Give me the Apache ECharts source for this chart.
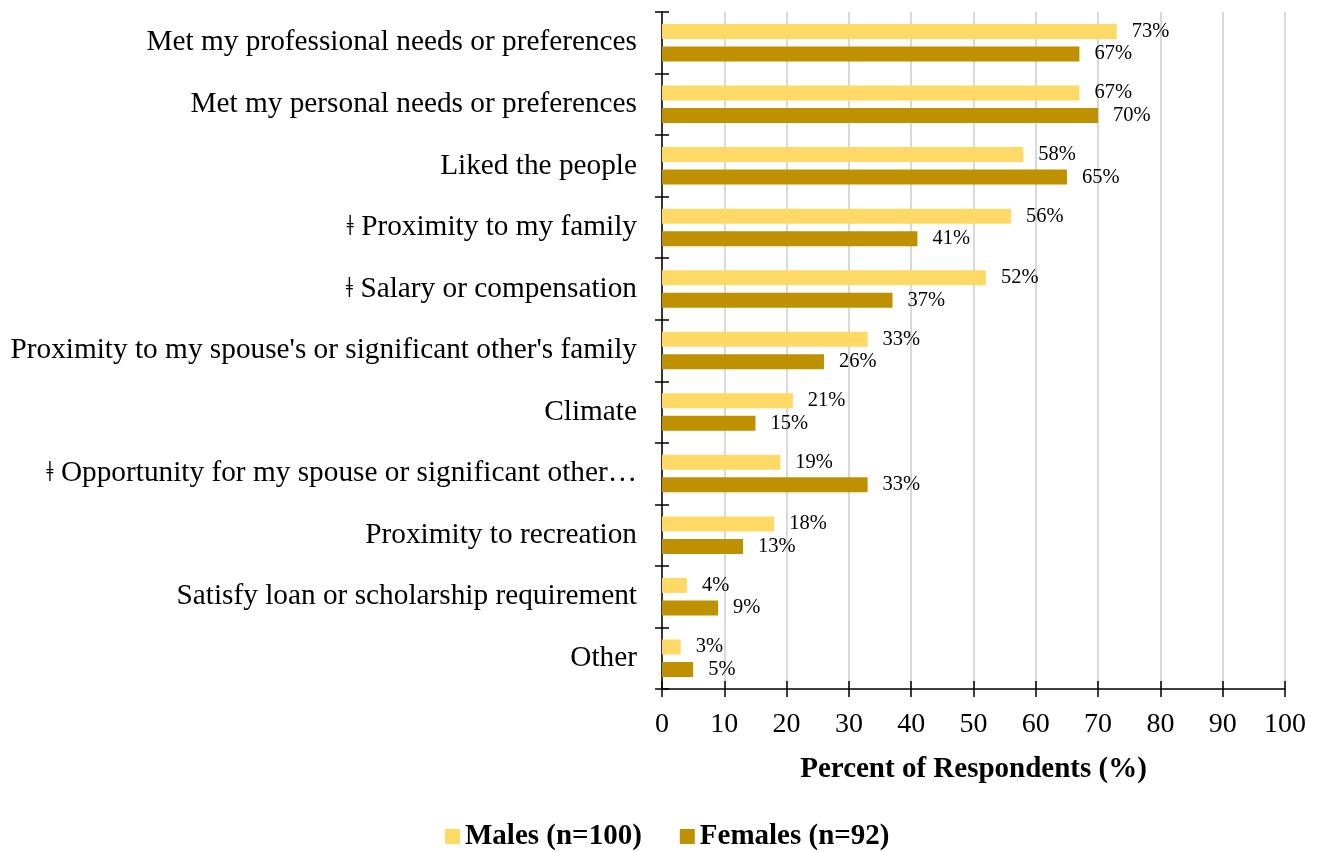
<!DOCTYPE html>
<html>
<head>
<meta charset="utf-8">
<script src="https://cdn.jsdelivr.net/npm/echarts@6/dist/echarts.min.js"></script>
<style>
  html, body { margin: 0; padding: 0; background: #ffffff; }
  #chart { width: 1320px; height: 852px; }
</style>
</head>
<body>
<div id="chart"></div>
<script>
// Reasons for choosing a practice location, by gender (top to bottom)
const categories = [
  "Met my professional needs or preferences",
  "Met my personal needs or preferences",
  "Liked the people",
  "\u01C2 Proximity to my family",
  "\u01C2 Salary or compensation",
  "Proximity to my spouse's or significant other's family",
  "Climate",
  "\u01C2 Opportunity for my spouse or significant other\u2026",
  "Proximity to recreation",
  "Satisfy loan or scholarship requirement",
  "Other"
];
const males = [73, 67, 58, 56, 52, 33, 21, 19, 18, 4, 3];
const females = [67, 70, 65, 41, 37, 26, 15, 33, 13, 9, 5];
const seriesNames = ["Males (n=100)", "Females (n=92)"];
const xTicks = { min: 0, max: 100, interval: 10 };
const xTitle = "Percent of Respondents (%)";

const FONT = "'Liberation Serif', 'Times New Roman', 'DejaVu Serif', serif";
const MALE_COLOR = "#FFD966";
const FEMALE_COLOR = "#BF9000";

const chart = echarts.init(document.getElementById("chart"));

const valueLabel = {
  show: true,
  position: "right",
  distance: 15,
  formatter: p => p.value + "%",
  fontFamily: FONT,
  fontSize: 20.5,
  color: "#000"
};

chart.setOption({
  animation: false,
  backgroundColor: "#ffffff",
  textStyle: { fontFamily: FONT },
  grid: { left: 662, right: 35, top: 12, bottom: 163, containLabel: false },
  legend: {
    bottom: -4,
    left: 440,
    itemWidth: 15,
    itemHeight: 15,
    itemGap: 38,
    icon: "rect",
    textStyle: { fontFamily: FONT, fontSize: 29, fontWeight: "bold", color: "#000" },
    data: seriesNames
  },
  xAxis: [
    {
      type: "value",
      min: xTicks.min, max: xTicks.max, interval: xTicks.interval,
      name: xTitle,
      nameLocation: "middle",
      nameGap: 66,
      nameTextStyle: { fontFamily: FONT, fontSize: 29, fontWeight: "bold", color: "#000" },
      axisLine: { show: true, lineStyle: { color: "#000", width: 1.5 } },
      axisTick: { show: true, length: 8, lineStyle: { color: "#000", width: 1.5 } },
      axisLabel: { fontFamily: FONT, fontSize: 28, color: "#000", margin: 22 },
      splitLine: { show: true, lineStyle: { color: "#d9d9d9", width: 2 } }
    },
    {
      // mirrored ticks so the marks cross the axis line
      type: "value",
      position: "bottom",
      min: xTicks.min, max: xTicks.max, interval: xTicks.interval,
      axisLine: { show: false },
      axisTick: { show: true, inside: true, length: 8, lineStyle: { color: "#000", width: 1.5 } },
      axisLabel: { show: false },
      splitLine: { show: false }
    }
  ],
  yAxis: [
    {
      type: "category",
      data: categories,
      inverse: true,
      axisLine: { show: true, lineStyle: { color: "#000", width: 1.5 } },
      axisTick: { show: true, length: 7, lineStyle: { color: "#000", width: 1.5 } },
      axisLabel: { fontFamily: FONT, fontSize: 29.3, color: "#000", margin: 25 }
    },
    {
      type: "category",
      data: categories,
      inverse: true,
      position: "left",
      axisLine: { show: false },
      axisTick: { show: true, inside: true, length: 7, lineStyle: { color: "#000", width: 1.5 } },
      axisLabel: { show: false }
    }
  ],
  series: [
    {
      name: seriesNames[0],
      type: "bar",
      xAxisIndex: 0, yAxisIndex: 0,
      data: males,
      barWidth: 15,
      barGap: "50%",
      itemStyle: { color: MALE_COLOR },
      label: valueLabel
    },
    {
      name: seriesNames[1],
      type: "bar",
      xAxisIndex: 0, yAxisIndex: 0,
      data: females,
      barWidth: 15,
      barGap: "50%",
      itemStyle: { color: FEMALE_COLOR },
      label: valueLabel
    }
  ]
});
</script>
</body>
</html>
